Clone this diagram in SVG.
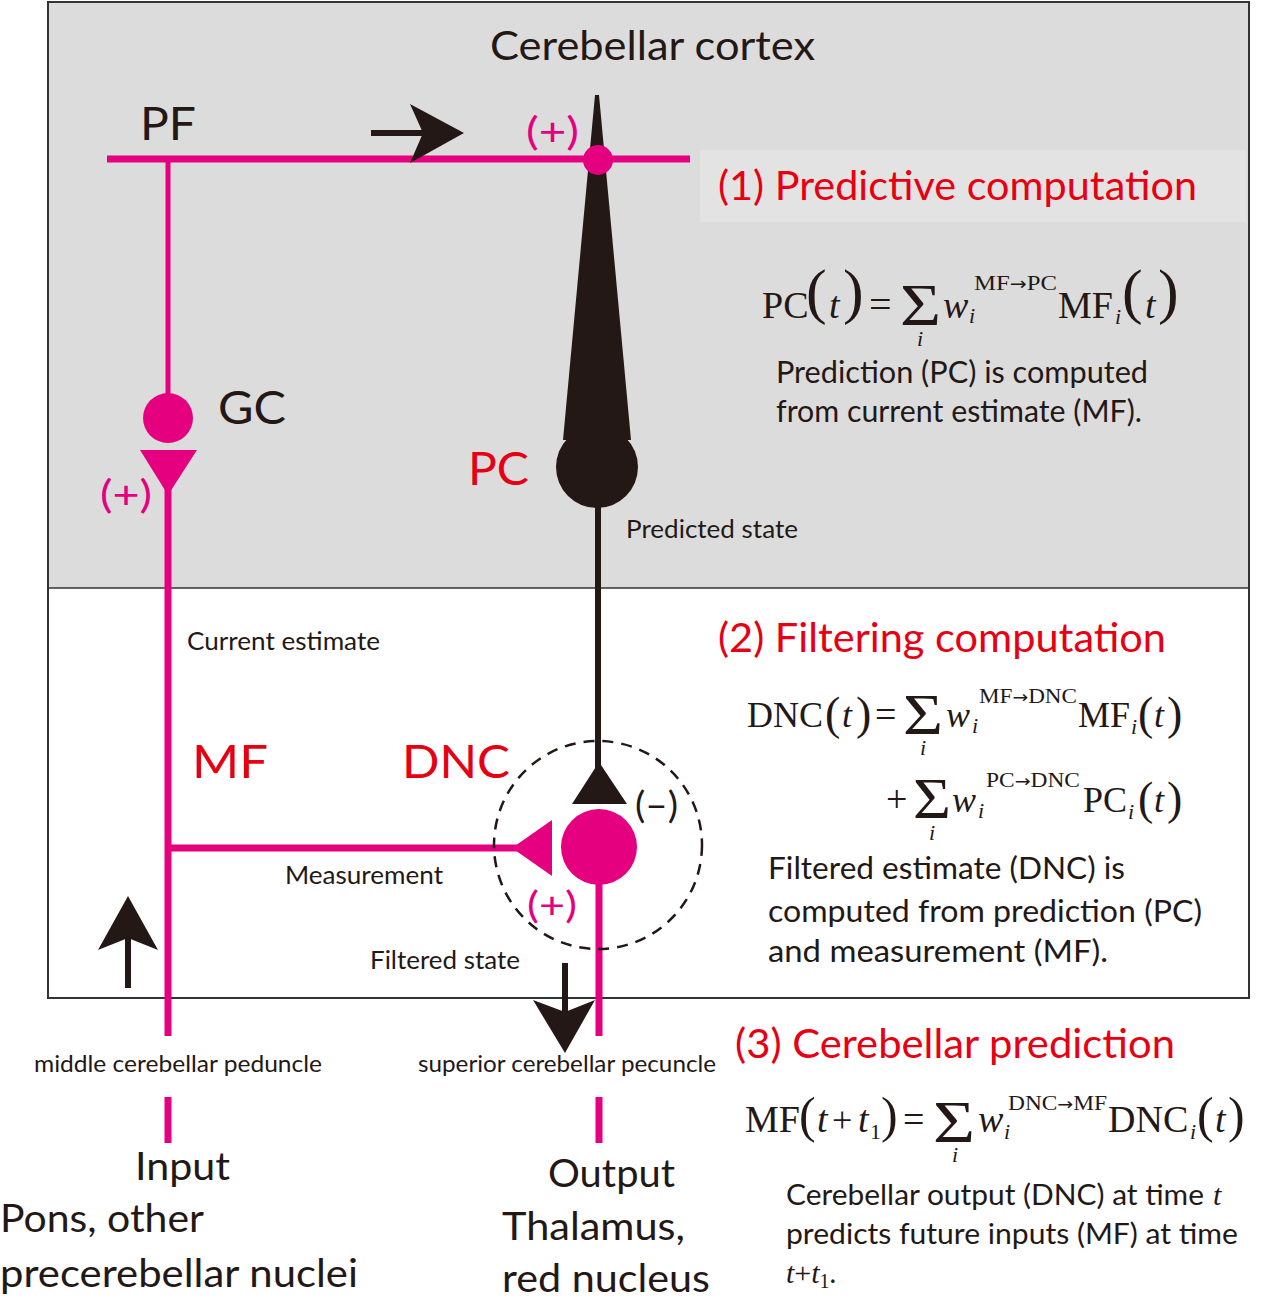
<svg xmlns="http://www.w3.org/2000/svg" width="1263" height="1300" viewBox="0 0 1263 1300">
<style>
.s{font-family:Lato,"Open Sans","Liberation Sans",sans-serif;fill:#231815}
.red{fill:#e60012}
.pk{fill:#e4007f}
.eq{font-family:"Liberation Serif","Times New Roman",serif;fill:#231815}
.it{font-style:italic}
.ar{font-family:"DejaVu Sans",sans-serif}
.pl{stroke:#e4007f;fill:none}
.bl{stroke:#231815;fill:none}
</style>
<rect x="0" y="0" width="1263" height="1300" fill="#ffffff"/>
<rect x="48" y="2" width="1201" height="586" fill="#dcdcdc"/>
<rect x="700" y="150" width="546" height="72" fill="#e3e3e3"/>
<rect x="48" y="2" width="1201" height="996" fill="none" stroke="#333333" stroke-width="2"/>
<line x1="48" y1="588" x2="1249" y2="588" stroke="#333333" stroke-width="1.5"/>

<text class="s" x="490" y="60" font-size="40" textLength="325" lengthAdjust="spacingAndGlyphs">Cerebellar cortex</text>

<g id="connectors">
  <line class="pl" x1="107" y1="159" x2="690" y2="159" stroke-width="7"/>
  <line class="pl" x1="168" y1="159" x2="168" y2="400" stroke-width="5"/>
  <line class="pl" x1="168" y1="480" x2="168" y2="1036" stroke-width="7"/>
  <line class="pl" x1="168" y1="1097" x2="168" y2="1143" stroke-width="7"/>
  <line class="pl" x1="168" y1="848" x2="520" y2="848" stroke-width="7"/>
  <line class="pl" x1="599" y1="880" x2="599" y2="1036" stroke-width="7"/>
  <line class="pl" x1="599" y1="1097" x2="599" y2="1143" stroke-width="7"/>
  <line class="bl" x1="598" y1="500" x2="598" y2="770" stroke-width="6"/>
  <line class="bl" x1="371" y1="133" x2="425" y2="133" stroke-width="6"/>
  <path d="M464,133 L410,104 L423,133 L410,163 Z" fill="#231815"/>
  <line class="bl" x1="128" y1="935" x2="128" y2="988" stroke-width="6"/>
  <path d="M128,896 L158,950 L128,938 L98,950 Z" fill="#231815"/>
  <line class="bl" x1="565" y1="963" x2="565" y2="1015" stroke-width="6"/>
  <path d="M565,1053 L595,1000 L565,1012 L533,1000 Z" fill="#231815"/>
</g>

<g id="PC">
  <path d="M595,95 L599,95 L631,440 L563,440 Z" fill="#231815"/>
  <circle cx="597" cy="467" r="41" fill="#231815"/>
  <text class="s red" x="468" y="485" font-size="46" textLength="61" lengthAdjust="spacingAndGlyphs">PC</text>
</g>

<g id="PF-PC-synapse">
  <circle cx="598" cy="160" r="15" fill="#e4007f"/>
  <text class="s pk" x="526" y="145" font-size="38" textLength="53" lengthAdjust="spacingAndGlyphs">(+)</text>
</g>

<g id="PF">
  <text class="s" x="140" y="140" font-size="46" textLength="56" lengthAdjust="spacingAndGlyphs">PF</text>
</g>

<g id="GC">
  <circle cx="168" cy="418" r="25" fill="#e4007f"/>
  <path d="M140,450 L197,450 L168,495 Z" fill="#e4007f"/>
  <text class="s" x="218" y="424" font-size="46" textLength="68" lengthAdjust="spacingAndGlyphs">GC</text>
  <text class="s pk" x="100" y="508" font-size="38" textLength="52" lengthAdjust="spacingAndGlyphs">(+)</text>
</g>

<g id="DNC">
  <circle cx="598" cy="845" r="104" fill="none" stroke="#231815" stroke-width="2.5" stroke-dasharray="11 8"/>
  <path d="M572,804 L627,804 L599,762 Z" fill="#231815"/>
  <path d="M552,820 L552,876 L512,848 Z" fill="#e4007f"/>
  <circle cx="599" cy="847" r="38" fill="#e4007f"/>
  <text class="s red" x="402" y="778" font-size="46" textLength="108" lengthAdjust="spacingAndGlyphs">DNC</text>
  <text class="s" x="635" y="818" font-size="36" textLength="43" lengthAdjust="spacingAndGlyphs">(–)</text>
  <text class="s pk" x="527" y="918" font-size="36" textLength="50" lengthAdjust="spacingAndGlyphs">(+)</text>
</g>

<g id="MF">
  <text class="s red" x="192" y="778" font-size="46" textLength="76" lengthAdjust="spacingAndGlyphs">MF</text>
</g>

<g id="labels">
  <text class="s" x="626" y="538" font-size="25" textLength="172" lengthAdjust="spacingAndGlyphs">Predicted state</text>
  <text class="s" x="187" y="650" font-size="25" textLength="193" lengthAdjust="spacingAndGlyphs">Current estimate</text>
  <text class="s" x="285" y="884" font-size="25" textLength="158" lengthAdjust="spacingAndGlyphs">Measurement</text>
  <text class="s" x="370" y="969" font-size="25" textLength="150" lengthAdjust="spacingAndGlyphs">Filtered state</text>
  <text class="s" x="34" y="1072" font-size="24" textLength="288" lengthAdjust="spacingAndGlyphs">middle cerebellar peduncle</text>
  <text class="s" x="418" y="1072" font-size="24" textLength="298" lengthAdjust="spacingAndGlyphs">superior cerebellar pecuncle</text>
  <text class="s" x="135" y="1180" font-size="38" textLength="95" lengthAdjust="spacingAndGlyphs">Input</text>
  <text class="s" x="0" y="1232" font-size="38" textLength="204" lengthAdjust="spacingAndGlyphs">Pons, other</text>
  <text class="s" x="0" y="1287" font-size="38" textLength="358" lengthAdjust="spacingAndGlyphs">precerebellar nuclei</text>
  <text class="s" x="548" y="1187" font-size="38" textLength="127" lengthAdjust="spacingAndGlyphs">Output</text>
  <text class="s" x="502" y="1240" font-size="38" textLength="183" lengthAdjust="spacingAndGlyphs">Thalamus,</text>
  <text class="s" x="502" y="1292" font-size="38" textLength="208" lengthAdjust="spacingAndGlyphs">red nucleus</text>
</g>

<g id="section1">
  <text class="s red" x="718" y="200" font-size="40" textLength="479" lengthAdjust="spacingAndGlyphs">(1) Predictive computation</text>
  <text class="eq" x="762" y="318" font-size="38">PC</text>
  <text class="eq" x="806" y="312" font-size="62">(</text>
  <text class="eq it" x="829" y="318" font-size="38">t</text>
  <text class="eq" x="843" y="312" font-size="62">)</text>
  <text class="eq" x="869" y="318" font-size="40">=</text>
  <text class="eq" x="900" y="325" font-size="60" textLength="41" lengthAdjust="spacingAndGlyphs">Σ</text>
  <text class="eq it" x="917" y="346" font-size="22">i</text>
  <text class="eq it" x="943" y="318" font-size="38">w</text>
  <text class="eq" x="974" y="290" font-size="22" textLength="83" lengthAdjust="spacingAndGlyphs">MF<tspan class="ar" font-size="18">→</tspan>PC</text>
  <text class="eq it" x="969" y="323" font-size="22">i</text>
  <text class="eq" x="1058" y="318" font-size="38">MF</text>
  <text class="eq it" x="1115" y="324" font-size="22">i</text>
  <text class="eq" x="1122" y="312" font-size="62">(</text>
  <text class="eq it" x="1145" y="318" font-size="38">t</text>
  <text class="eq" x="1158" y="312" font-size="62">)</text>
  <text class="s" x="776" y="383" font-size="30" textLength="372" lengthAdjust="spacingAndGlyphs">Prediction (PC) is computed</text>
  <text class="s" x="776" y="422" font-size="30" textLength="366" lengthAdjust="spacingAndGlyphs">from current estimate (MF).</text>
</g>

<g id="section2">
  <text class="s red" x="718" y="652" font-size="40" textLength="448" lengthAdjust="spacingAndGlyphs">(2) Filtering computation</text>
  <text class="eq" x="747" y="727" font-size="36">DNC</text>
  <text class="eq" x="825" y="729" font-size="46">(</text>
  <text class="eq it" x="842" y="727" font-size="36">t</text>
  <text class="eq" x="856" y="729" font-size="46">)</text>
  <text class="eq" x="875" y="727" font-size="38">=</text>
  <text class="eq" x="903" y="734" font-size="58" textLength="40" lengthAdjust="spacingAndGlyphs">Σ</text>
  <text class="eq it" x="920" y="755" font-size="22">i</text>
  <text class="eq it" x="946" y="727" font-size="36">w</text>
  <text class="eq" x="979" y="703" font-size="21" textLength="98" lengthAdjust="spacingAndGlyphs">MF<tspan class="ar" font-size="17">→</tspan>DNC</text>
  <text class="eq it" x="972" y="733" font-size="22">i</text>
  <text class="eq" x="1078" y="727" font-size="36">MF</text>
  <text class="eq it" x="1131" y="734" font-size="22">i</text>
  <text class="eq" x="1138" y="729" font-size="46">(</text>
  <text class="eq it" x="1154" y="727" font-size="36">t</text>
  <text class="eq" x="1167" y="729" font-size="46">)</text>
  <text class="eq" x="886" y="812" font-size="38">+</text>
  <text class="eq" x="913" y="818" font-size="58" textLength="38" lengthAdjust="spacingAndGlyphs">Σ</text>
  <text class="eq it" x="929" y="840" font-size="22">i</text>
  <text class="eq it" x="952" y="812" font-size="36">w</text>
  <text class="eq" x="986" y="787" font-size="21" textLength="94" lengthAdjust="spacingAndGlyphs">PC<tspan class="ar" font-size="17">→</tspan>DNC</text>
  <text class="eq it" x="978" y="818" font-size="22">i</text>
  <text class="eq" x="1083" y="812" font-size="36">PC</text>
  <text class="eq it" x="1128" y="819" font-size="22">i</text>
  <text class="eq" x="1138" y="814" font-size="46">(</text>
  <text class="eq it" x="1154" y="812" font-size="36">t</text>
  <text class="eq" x="1167" y="814" font-size="46">)</text>
  <text class="s" x="768" y="879" font-size="30" textLength="357" lengthAdjust="spacingAndGlyphs">Filtered estimate (DNC) is</text>
  <text class="s" x="768" y="922" font-size="30" textLength="434" lengthAdjust="spacingAndGlyphs">computed from prediction (PC)</text>
  <text class="s" x="768" y="962" font-size="30" textLength="340" lengthAdjust="spacingAndGlyphs">and measurement (MF).</text>
</g>

<g id="section3">
  <text class="s red" x="735" y="1058" font-size="40" textLength="440" lengthAdjust="spacingAndGlyphs">(3) Cerebellar prediction</text>
  <text class="eq" x="745" y="1132" font-size="38">MF</text>
  <text class="eq" x="799" y="1132" font-size="50">(</text>
  <text class="eq it" x="817" y="1132" font-size="38">t</text>
  <text class="eq" x="832" y="1132" font-size="36">+</text>
  <text class="eq it" x="858" y="1132" font-size="38">t</text>
  <text class="eq" x="870" y="1139" font-size="22">1</text>
  <text class="eq" x="881" y="1132" font-size="50">)</text>
  <text class="eq" x="903" y="1132" font-size="38">=</text>
  <text class="eq" x="933" y="1142" font-size="60" textLength="42" lengthAdjust="spacingAndGlyphs">Σ</text>
  <text class="eq it" x="952" y="1162" font-size="22">i</text>
  <text class="eq it" x="978" y="1132" font-size="38">w</text>
  <text class="eq" x="1008" y="1110" font-size="21" textLength="99" lengthAdjust="spacingAndGlyphs">DNC<tspan class="ar" font-size="17">→</tspan>MF</text>
  <text class="eq it" x="1004" y="1139" font-size="22">i</text>
  <text class="eq" x="1108" y="1132" font-size="38">DNC</text>
  <text class="eq it" x="1190" y="1139" font-size="22">i</text>
  <text class="eq" x="1197" y="1132" font-size="50">(</text>
  <text class="eq it" x="1215" y="1132" font-size="38">t</text>
  <text class="eq" x="1228" y="1132" font-size="50">)</text>
  <text class="s" x="786" y="1205" font-size="28" textLength="418" lengthAdjust="spacingAndGlyphs">Cerebellar output (DNC) at time</text>
  <text class="eq it" x="1213" y="1205" font-size="30">t</text>
  <text class="s" x="786" y="1244" font-size="28" textLength="452" lengthAdjust="spacingAndGlyphs">predicts future inputs (MF) at time</text>
  <text x="786" y="1283"><tspan class="eq it" font-size="30">t</tspan><tspan class="eq" font-size="30">+</tspan><tspan class="eq it" font-size="30">t</tspan><tspan class="eq" font-size="20" dy="5">1</tspan><tspan class="s" font-size="28" dy="-5">.</tspan></text>
</g>
</svg>
